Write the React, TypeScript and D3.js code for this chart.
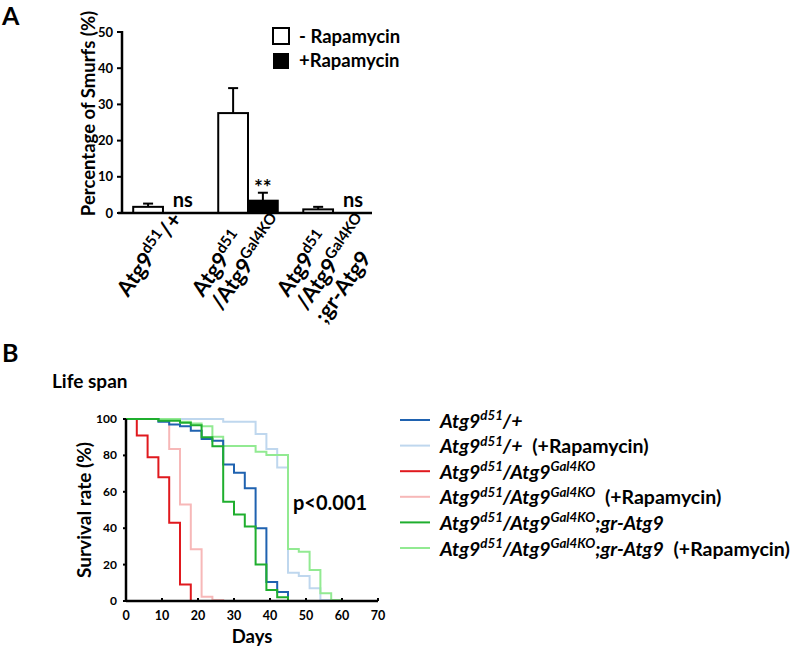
import React from 'react'
import * as d3 from 'd3'

// ---- Panel A data ----
const groups = ['het', 'mut', 'rescue']
const minusRapa = [1.7, 27.6, 1.0]
const minusRapaErr = [0.9, 6.9, 0.7]
const plusRapa = [0, 3.4, 0]
const plusRapaErr = [0, 2.2, 0]
const signif = ['ns', '**', 'ns']
const yTicksA = [0, 10, 20, 30, 40, 50]

type Part = { t: string; sup?: boolean; plain?: boolean }

// rotated category labels, one array of lines per group
const groupLabels: Part[][][] = [
  [[{ t: 'Atg9' }, { t: 'd51', sup: true }, { t: '/+' }]],
  [
    [{ t: 'Atg9' }, { t: 'd51', sup: true }],
    [{ t: '/Atg9' }, { t: 'Gal4KO', sup: true }],
  ],
  [
    [{ t: 'Atg9' }, { t: 'd51', sup: true }],
    [{ t: '/Atg9' }, { t: 'Gal4KO', sup: true }],
    [{ t: ';gr-Atg9' }],
  ],
]

// ---- Panel B data: [day, survival %] step points ----
const hetCtrl = [[0, 100], [9, 98.5], [12, 97], [15, 96], [18, 93.5], [21, 89], [24, 88], [27, 75], [30, 70.5], [33, 62], [36, 40], [39, 10.5], [42, 5], [45, 0], [48, 0]]
const hetRapa = [[0, 100], [27, 98.5], [36, 91.8], [39, 83.5], [42, 73.4], [45, 15.5], [48, 13.7], [51, 7], [54, 0.5], [57, 0]]
const mutCtrl = [[0, 100], [3, 91], [6, 79], [9, 68], [12, 43], [15, 9], [18, 0], [21, 0]]
const mutRapa = [[0, 100], [12, 83.5], [15, 53], [18, 28.5], [21, 2.4], [24, 0.5], [27, 0]]
const rescueCtrl = [[0, 100], [9, 99], [15, 98], [18, 96.5], [21, 90], [24, 85], [27, 54.5], [30, 47.5], [33, 41], [36, 20], [39, 6], [42, 2], [45, 0], [48, 0]]
const rescueRapa = [[0, 100], [15, 98.5], [18, 97.5], [21, 96], [24, 90.3], [27, 85.2], [36, 82], [39, 80.2], [45, 28.6], [48, 27], [51, 17], [54, 4.2], [57, 0.5], [60, 0]]

const seriesColors = ['#1f62b0', '#bfd7ee', '#e0191e', '#f7b8b8', '#1fae2e', '#92ea92']
const seriesData = [hetCtrl, hetRapa, mutCtrl, mutRapa, rescueCtrl, rescueRapa]
const legendLabels: Part[][] = [
  [{ t: 'Atg9' }, { t: 'd51', sup: true }, { t: '/+' }],
  [{ t: 'Atg9' }, { t: 'd51', sup: true }, { t: '/+' }, { t: '(+Rapamycin)', plain: true }],
  [{ t: 'Atg9' }, { t: 'd51', sup: true }, { t: '/Atg9' }, { t: 'Gal4KO', sup: true }],
  [{ t: 'Atg9' }, { t: 'd51', sup: true }, { t: '/Atg9' }, { t: 'Gal4KO', sup: true }, { t: '(+Rapamycin)', plain: true }],
  [{ t: 'Atg9' }, { t: 'd51', sup: true }, { t: '/Atg9' }, { t: 'Gal4KO', sup: true }, { t: ';gr-Atg9' }],
  [{ t: 'Atg9' }, { t: 'd51', sup: true }, { t: '/Atg9' }, { t: 'Gal4KO', sup: true }, { t: ';gr-Atg9' }, { t: '(+Rapamycin)', plain: true }],
]
const drawOrder = [1, 3, 5, 0, 2, 4]
const xTicksB = [0, 10, 20, 30, 40, 50, 60, 70]
const yTicksB = [0, 20, 40, 60, 80, 100]

const FONT = 'Lato, "Open Sans", sans-serif'

function rich(parts: Part[], size: number) {
  let up = false
  return parts.map((p, i) => {
    let dy: number | undefined
    if (p.sup && !up) {
      dy = -size * 0.38
      up = true
    } else if (!p.sup && up) {
      dy = size * 0.38
      up = false
    }
    return (
      <tspan
        key={i}
        dy={dy}
        dx={p.plain ? size * 0.5 : undefined}
        fontSize={p.sup ? size * 0.68 : undefined}
        fontStyle={p.plain ? 'normal' : undefined}
      >
        {p.t}
      </tspan>
    )
  })
}

const BarPanel = () => {
  const y = d3.scaleLinear().domain([0, 50]).range([213, 32])
  const x = d3.scaleBand().domain(groups).range([123, 373]).paddingInner(0.3).paddingOuter(0.12)
  const sub = d3.scaleBand().domain(['minus', 'plus']).range([0, x.bandwidth()])
  const bw = sub.bandwidth()

  return (
    <g fontFamily={FONT} fontWeight="bold">
      <text x={2} y={25} fontSize={25}>A</text>
      <text transform={`translate(95,${y(25) - 9}) rotate(-90)`} textAnchor="middle" fontSize={18.5}>
        Percentage of Smurfs (%)
      </text>
      {yTicksA.map((t) => (
        <g key={t}>
          <line x1={117} x2={122} y1={y(t)} y2={y(t)} stroke="#000" strokeWidth={2} />
          <text x={113} y={y(t) + 4.5} textAnchor="end" fontSize={13}>{t}</text>
        </g>
      ))}
      {groups.map((g, i) => {
        const x0 = x(g)!
        const xm = x0 + sub('minus')!
        const xp = x0 + sub('plus')!
        const shift = groupLabels[i].length > 1 ? -45 : -35
        return (
          <g key={g}>
            {minusRapaErr[i] > 0 && (
              <g stroke="#000" strokeWidth={2}>
                <line x1={xm + bw / 2} x2={xm + bw / 2} y1={y(minusRapa[i])} y2={y(minusRapa[i] + minusRapaErr[i])} />
                <line x1={xm + bw / 2 - 5} x2={xm + bw / 2 + 5} y1={y(minusRapa[i] + minusRapaErr[i])} y2={y(minusRapa[i] + minusRapaErr[i])} />
              </g>
            )}
            <rect x={xm} width={bw} y={y(minusRapa[i])} height={y(0) - y(minusRapa[i])} fill="#fff" stroke="#000" strokeWidth={2} />
            {plusRapa[i] > 0 && (
              <g>
                <g stroke="#000" strokeWidth={2}>
                  <line x1={xp + bw / 2} x2={xp + bw / 2} y1={y(plusRapa[i])} y2={y(plusRapa[i] + plusRapaErr[i])} />
                  <line x1={xp + bw / 2 - 5} x2={xp + bw / 2 + 5} y1={y(plusRapa[i] + plusRapaErr[i])} y2={y(plusRapa[i] + plusRapaErr[i])} />
                </g>
                <rect x={xp} width={bw} y={y(plusRapa[i])} height={y(0) - y(plusRapa[i])} fill="#000" stroke="#000" strokeWidth={2} />
              </g>
            )}
            <text
              x={xp + bw / 2 + (signif[i] === 'ns' ? 5 : 0)}
              y={signif[i] === 'ns' ? y(0) - 6 : y(plusRapa[i] + plusRapaErr[i]) + 2}
              textAnchor="middle"
              fontSize={signif[i] === 'ns' ? 20 : 21}
            >
              {signif[i]}
            </text>
            {groupLabels[i].map((line, k) => (
              <text
                key={k}
                transform={`translate(${x0 + bw + shift},298) rotate(-55) translate(0,${k * 23})`}
                fontSize={22}
              >
                {rich(line, 22)}
              </text>
            ))}
          </g>
        )
      })}
      <line x1={118} x2={372} y1={y(0)} y2={y(0)} stroke="#000" strokeWidth={2.5} />
      <line x1={122} x2={122} y1={y(0) + 1} y2={y(50) - 1} stroke="#000" strokeWidth={2.5} />
      {/* legend */}
      <rect x={273} y={28} width={16} height={16} fill="#fff" stroke="#000" strokeWidth={2} />
      <rect x={273} y={53} width={16} height={16} fill="#000" />
      <text x={299} y={43} fontSize={18.5}>- Rapamycin</text>
      <text x={299} y={67} fontSize={18.5}>+Rapamycin</text>
    </g>
  )
}

const SurvivalPanel = () => {
  const x = d3.scaleLinear().domain([0, 70]).range([126, 378])
  const y = d3.scaleLinear().domain([0, 100]).range([601, 419])
  const line = d3
    .line<number[]>()
    .x((d) => x(d[0]))
    .y((d) => y(d[1]))
    .curve(d3.curveStepAfter)
  const legendY = d3.scaleLinear().domain([0, 5]).range([420, 548])

  return (
    <g fontFamily={FONT} fontWeight="bold">
      <text x={2} y={362} fontSize={25}>B</text>
      <text x={52} y={388} fontSize={19}>Life span</text>
      {drawOrder.map((i) => (
        <path key={i} d={line(seriesData[i])!} fill="none" stroke={seriesColors[i]} strokeWidth={2} />
      ))}
      <line x1={x(0)} x2={x(70)} y1={y(0)} y2={y(0)} stroke="#000" strokeWidth={2.5} />
      <line x1={x(0)} x2={x(0)} y1={y(0)} y2={y(100)} stroke="#000" strokeWidth={2.5} />
      {yTicksB.map((t) => (
        <g key={t}>
          <line x1={x(0) - 3} x2={x(0)} y1={y(t)} y2={y(t)} stroke="#000" strokeWidth={2} />
          <text x={117} y={y(t) + 4} textAnchor="end" fontSize={12}>{t}</text>
        </g>
      ))}
      {xTicksB.map((t) => (
        <g key={t}>
          <line x1={x(t)} x2={x(t)} y1={y(0)} y2={y(0) - 3} stroke="#000" strokeWidth={2} />
          <text x={x(t)} y={620} textAnchor="middle" fontSize={12.5}>{t}</text>
        </g>
      ))}
      <text x={(x(0) + x(70)) / 2} y={643} textAnchor="middle" fontSize={18.5}>Days</text>
      <text transform={`translate(91,${y(50)}) rotate(-90)`} textAnchor="middle" fontSize={19}>
        Survival rate (%)
      </text>
      <text x={293} y={510} fontSize={20}>p&lt;0.001</text>
      {legendLabels.map((lab, i) => (
        <g key={i}>
          <line x1={400} x2={430} y1={legendY(i)} y2={legendY(i)} stroke={seriesColors[i]} strokeWidth={2} />
          <text x={440} y={legendY(i) + 7.5} fontSize={19.5} fontStyle="italic">
            {rich(lab, 19.5)}
          </text>
        </g>
      ))}
    </g>
  )
}

const App = () => (
  <svg width={796} height={648} style={{ position: 'absolute', left: 0, top: 0, background: '#fff' }}>
    <rect width={796} height={648} fill="#fff" />
    <BarPanel />
    <SurvivalPanel />
  </svg>
)

export default App
